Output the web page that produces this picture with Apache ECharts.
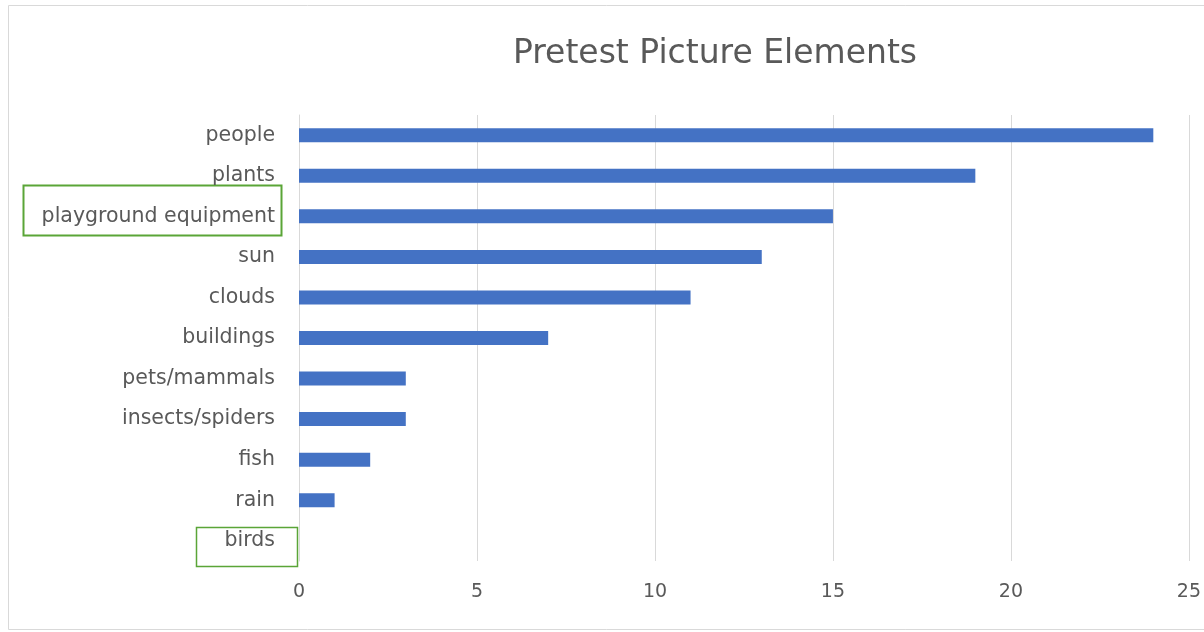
<html>
<head>
<meta charset="utf-8"/>
<title>Pretest Picture Elements</title>
<script src="https://cdn.jsdelivr.net/npm/echarts@6/dist/echarts.min.js"></script>
<style>
  body { margin: 0; padding: 0; background: #fff; }
  #chart { width: 1204px; height: 632px; }
</style>
</head>
<body>
<div id="chart"></div>
<script type="text/javascript">
// top to bottom as in the picture
let categories = ['people', 'plants', 'playground equipment', 'sun', 'clouds', 'buildings',
  'pets/mammals', 'insects/spiders', 'fish', 'rain', 'birds'];
let counts = [24, 19, 15, 13, 11, 7, 3, 3, 2, 1, 0];
let xTicks = [0, 5, 10, 15, 20, 25];

let chart = echarts.init(document.getElementById('chart'));

chart.setOption({
  animation: false,
  textStyle: { fontFamily: 'DejaVu Sans' },
  title: {
    text: 'Pretest Picture Elements',
    left: 710,
    textAlign: 'center',
    top: 33,
    textStyle: { fontSize: 33, fontWeight: 'normal', color: '#595959', fontFamily: 'DejaVu Sans' }
  },
  grid: { left: 299, right: 12, top: 115, bottom: 71, containLabel: false },
  xAxis: {
    type: 'value',
    min: xTicks[0],
    max: xTicks[xTicks.length - 1],
    interval: 5,
    axisLine: { show: false },
    axisTick: { show: false },
    axisLabel: { color: '#595959', fontSize: 19, margin: 22 },
    splitLine: { lineStyle: { color: '#d9d9d9', width: 1 } }
  },
  yAxis: {
    type: 'category',
    inverse: true,
    data: categories,
    axisLine: { lineStyle: { color: '#d9d9d9', width: 1 } },
    axisTick: { show: false },
    axisLabel: { color: '#595959', fontSize: 20.5, margin: 24 }
  },
  series: [{
    type: 'bar',
    data: counts,
    barWidth: 14,
    itemStyle: { color: '#4472c4' }
  }],
  graphic: [
    {
      type: 'rect', silent: true,
      shape: { x: 8.5, y: 5.5, width: 1210, height: 624 },
      style: { fill: null, stroke: '#d9d9d9', lineWidth: 1 }
    },
    {
      type: 'rect', silent: true,
      shape: { x: 23.5, y: 185.5, width: 258, height: 50 },
      style: { fill: null, stroke: '#5aa537', lineWidth: 2 }
    },
    {
      type: 'rect', silent: true,
      shape: { x: 196.5, y: 527.5, width: 101, height: 39 },
      style: { fill: null, stroke: '#5aa537', lineWidth: 1.5 }
    }
  ]
});
</script>
</body>
</html>
